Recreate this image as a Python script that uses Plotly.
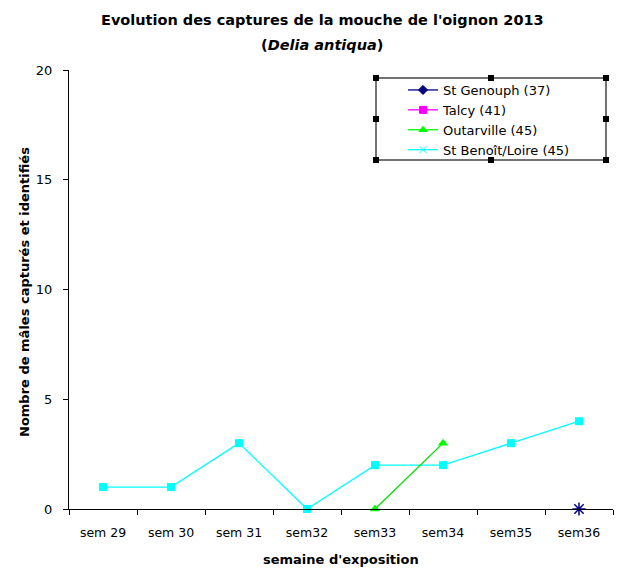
import plotly.graph_objects as go

categories = ["sem 29", "sem 30", "sem 31", "sem32", "sem33", "sem34", "sem35", "sem36"]
benoit_values = [1, 1, 3, 0, 2, 2, 3, 4]
outarville_x = ["sem33", "sem34"]
outarville_values = [0, 3]
genouph_x = ["sem36"]
genouph_values = [0]
legend_names = ["St Genouph (37)", "Talcy (41)", "Outarville (45)", "St Benoît/Loire (45)"]
legend_colors = ["#000080", "#FF00FF", "#00FF00", "#00FFFF"]
legend_symbols = ["diamond", "square", "triangle-up", "x-thin-open"]

FONT = "DejaVu Sans, Arial, sans-serif"

fig = go.Figure()

fig.add_trace(go.Scatter(x=categories, y=benoit_values, mode="lines+markers",
                         line=dict(color="#00FFFF", width=1.3),
                         marker=dict(symbol="square", size=8, color="#00FFFF"),
                         showlegend=False, cliponaxis=False))
fig.add_trace(go.Scatter(x=outarville_x, y=outarville_values, mode="lines+markers",
                         line=dict(color="#00DD00", width=1.3),
                         marker=dict(symbol="triangle-up", size=9, color="#00FF00"),
                         showlegend=False, cliponaxis=False))
fig.add_trace(go.Scatter(x=genouph_x, y=genouph_values, mode="markers",
                         marker=dict(symbol="asterisk-open", size=11, color="#000080",
                                     line=dict(color="#000080", width=1.5)),
                         showlegend=False, cliponaxis=False))

for name, col, sym in zip(legend_names, legend_colors, legend_symbols):
    fig.add_trace(go.Scatter(x=[None], y=[None], mode="lines+markers", name=name,
                             line=dict(color=col, width=1.3),
                             marker=dict(symbol=sym, size=7, color=col,
                                         line=dict(color=col, width=1))))

# page has an 8px body margin; plot area in page coords: x 69..613, y 70..509
OFF = 8
W, H = 623 - OFF, 570 - OFF
PL, PR, PT, PB = 69, 613, 70, 509
L, T = PL - OFF, PT - OFF
R = W - (PR - OFF)
B = H - (PB - OFF)
pw, ph = PR - PL, PB - PT

def px(x):
    return (x - PL) / pw

def py(y):
    return (PB - y) / ph

shapes = [dict(type="rect", xref="paper", yref="paper",
               x0=px(376), x1=px(606), y0=py(160), y1=py(78),
               line=dict(color="#444444", width=1.5))]
for hx in (376, 491, 606):
    for hy in (78, 119, 160):
        if hx == 491 and hy == 119:
            continue
        shapes.append(dict(type="rect", xref="paper", yref="paper",
                           xsizemode="pixel", ysizemode="pixel",
                           xanchor=px(hx), yanchor=py(hy),
                           x0=-3, x1=3, y0=-3, y1=3,
                           fillcolor="black", line=dict(width=0)))

fig.update_layout(
    width=W, height=H,
    margin=dict(l=L, r=R, t=T, b=B, pad=0),
    paper_bgcolor="white", plot_bgcolor="white",
    font=dict(family=FONT, size=12, color="black"),
    showlegend=True,
    legend=dict(x=px(403), y=py(75), xanchor="left", yanchor="top",
                bgcolor="rgba(0,0,0,0)", borderwidth=0,
                font=dict(family=FONT, size=13, color="black"),
                tracegroupgap=0, itemwidth=30),
    xaxis=dict(type="category", categoryorder="array", categoryarray=categories,
               range=[-0.5, 7.5], showline=True, linecolor="black", linewidth=1,
               ticks="outside", ticklen=5, tickcolor="black", tickson="boundaries",
               showgrid=False, zeroline=False, ticklabelstandoff=12,
               tickfont=dict(family=FONT, size=12.5)),
    yaxis=dict(range=[0, 20], dtick=5, showline=True, linecolor="black", linewidth=1,
               ticks="outside", ticklen=5, tickcolor="black",
               showgrid=False, zeroline=False, ticklabelstandoff=8,
               tickfont=dict(family=FONT, size=13)),
    shapes=shapes,
    annotations=[
        dict(text="<b>Evolution des captures de la mouche de l'oignon 2013</b>",
             xref="paper", yref="paper", x=px(322), y=py(20), xanchor="center",
             yanchor="middle", showarrow=False, font=dict(family=FONT, size=14.5)),
        dict(text="<b>(<i>Delia antiqua</i>)</b>",
             xref="paper", yref="paper", x=px(322), y=py(45), xanchor="center",
             yanchor="middle", showarrow=False, font=dict(family=FONT, size=14.5)),
        dict(text="<b>semaine d'exposition</b>",
             xref="paper", yref="paper", x=px(341), y=py(559), xanchor="center",
             yanchor="middle", showarrow=False, font=dict(family=FONT, size=13)),
        dict(text="<b>Nombre de mâles capturés et identifiés</b>", textangle=-90,
             xref="paper", yref="paper", x=px(24), y=py(292), xanchor="center",
             yanchor="middle", showarrow=False, font=dict(family=FONT, size=13)),
    ],
)

fig.write_html("out.html")
